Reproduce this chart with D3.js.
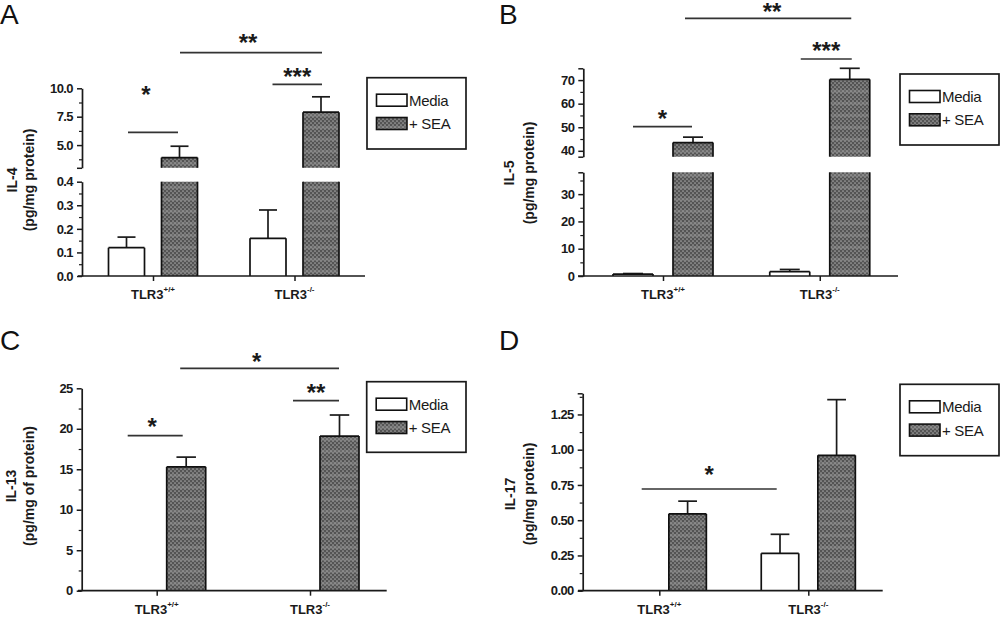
<!DOCTYPE html>
<html><head><meta charset="utf-8">
<script src="https://cdn.jsdelivr.net/npm/d3@7"></script>
<style>body{margin:0;background:#fff}svg{display:block}</style>
</head><body>
<svg id="c" width="1000" height="617"></svg>
<script>
// ---------- DATA ----------
const groups = ["TLR3+/+", "TLR3-/-"];
const groupBase = ["TLR3", "TLR3"];
const groupSup = ["+/+", "-/-"];
const series = ["Media", "+ SEA"];

const il4Media = [0.12, 0.16];
const il4MediaErr = [0.045, 0.12];
const il4Sea = [3.9, 7.9];
const il4SeaErr = [1.0, 1.35];

const il5Media = [0.7, 1.6];
const il5MediaErr = [0.2, 0.8];
const il5Sea = [43.5, 70.3];
const il5SeaErr = [2.3, 4.7];

const il13Media = [0, 0];
const il13MediaErr = [0, 0];
const il13Sea = [15.3, 19.1];
const il13SeaErr = [1.2, 2.6];

const il17Media = [0, 0.265];
const il17MediaErr = [0, 0.135];
const il17Sea = [0.545, 0.96];
const il17SeaErr = [0.09, 0.395];

const ticksIL4Low = [0.0, 0.1, 0.2, 0.3, 0.4];
const ticksIL4High = [5.0, 7.5, 10.0];
const ticksIL5Low = [0, 10, 20, 30];
const ticksIL5High = [40, 50, 60, 70];
const ticksIL13 = [0, 5, 10, 15, 20, 25];
const ticksIL17 = [0, 0.25, 0.5, 0.75, 1.0, 1.25];

const sigIL4 = ["*", "**", "***"];
const sigIL5 = ["*", "**", "***"];
const sigIL13 = ["*", "*", "**"];
const sigIL17 = ["*"];

// ---------- LAYOUT ----------
const panels = [
  {letter: "A", lx: 0, ly: 24, axisX: 82, xStart: 78, xEnd: 365, centers: [153, 294.5], barW: 36, off: 26.5,
   media: il4Media, mediaErr: il4MediaErr, sea: il4Sea, seaErr: il4SeaErr,
   segs: [
     {domain: [0, 0.4], range: [276, 181.7], ticks: ticksIL4Low, minor: [0.05, 0.15, 0.25, 0.35], fmt: ".1f"},
     {domain: [3, 10], range: [167.8, 88.3], ticks: ticksIL4High, minor: [3.75, 6.25, 8.75], ends: [3], fmt: ".1f"}
   ],
   ylab: ["IL-4", "(pg/mg protein)"], ylabX: [17, 34], ylabY: 180,
   legend: {x: 367, y: 77.7, w: 99, h: 71.3},
   sig: [
     {from: [0, 0, 1.5], to: [0, 1, -1.5], y: 132.3, sy: 89, label: sigIL4[0], sx: -7},
     {from: [0, 1, 0.5], to: [1, 1, 1], y: 52.7, sy: 37.7, label: sigIL4[1], sx: -3},
     {from: [1, 0, 4.5], to: [1, 1, 1], y: 84.3, sy: 71.7, label: sigIL4[2], sx: 0}
   ]},
  {letter: "B", lx: 499, ly: 24, axisX: 583.3, xStart: 578, xEnd: 898, centers: [663, 819.75], barW: 40, off: 30,
   media: il5Media, mediaErr: il5MediaErr, sea: il5Sea, seaErr: il5SeaErr,
   segs: [
     {domain: [0, 38], range: [276, 172.3], ticks: ticksIL5Low, minor: [5, 15, 25, 35], ends: [38], fmt: "d"},
     {domain: [37.5, 75], range: [156.7, 68.3], ticks: ticksIL5High, minor: [45, 55, 65], ends: [37.5, 75], fmt: "d"}
   ],
   ylab: ["IL-5", "(pg/mg protein)"], ylabX: [514, 534], ylabY: 173,
   legend: {x: 900, y: 74, w: 99, h: 71},
   sig: [
     {from: [0, 0, 0], to: [0, 1, -1], y: 126.7, sy: 113, label: sigIL5[0], sx: 0},
     {from: [0, 1, -8], to: [1, 1, 1.5], y: 18.3, sy: 6, label: sigIL5[1], sx: 4},
     {from: [1, 0, 11], to: [1, 1, 2], y: 59, sy: 45, label: sigIL5[2], sx: 0}
   ]},
  {letter: "C", lx: 0, ly: 350, axisX: 81.7, xStart: 78, xEnd: 386.7, centers: [156.7, 310], barW: 39, off: 29.5,
   media: il13Media, mediaErr: il13MediaErr, sea: il13Sea, seaErr: il13SeaErr,
   segs: [
     {domain: [0, 25], range: [590.7, 388.3], ticks: ticksIL13, minor: [2.5, 7.5, 12.5, 17.5, 22.5], fmt: "d"}
   ],
   ylab: ["IL-13", "(pg/mg of protein)"], ylabX: [16, 34], ylabY: 486,
   legend: {x: 366.7, y: 381.7, w: 99.3, h: 70.6},
   sig: [
     {from: [0, 0, 0.5], to: [0, 1, -3.5], y: 435.7, sy: 421.7, label: sigIL13[0], sx: -3},
     {from: [0, 1, -6], to: [1, 1, -0.5], y: 368.3, sy: 356.7, label: sigIL13[1], sx: -3},
     {from: [1, 0, 12.5], to: [1, 1, -0.5], y: 400.7, sy: 387.7, label: sigIL13[2], sx: 0}
   ]},
  {letter: "D", lx: 499, ly: 350, axisX: 582.7, xStart: 578, xEnd: 882.7, centers: [659.3, 808.3], barW: 37.5, off: 28.3,
   media: il17Media, mediaErr: il17MediaErr, sea: il17Sea, seaErr: il17SeaErr,
   segs: [
     {domain: [0, 1.4], range: [590.7, 393.3], ticks: ticksIL17, minor: [0.125, 0.375, 0.625, 0.875, 1.125, 1.375], ends: [1.4], fmt: ".2f"}
   ],
   ylab: ["IL-17", "(pg/mg protein)"], ylabX: [515, 534], ylabY: 494,
   legend: {x: 900, y: 384.3, w: 99, h: 71.4},
   sig: [
     {from: [0, 0, 10.7], to: [1, 0, -3.3], y: 489, sy: 469, label: sigIL17[0], sx: 0}
   ]}
];

const svg = d3.select("#c");
const FONT = "'Liberation Sans', Arial, sans-serif";
const INK = "#1a1a1a";

// pattern for SEA bars
const defs = svg.append("defs");
const pat = defs.append("pattern").attr("id", "sea").attr("patternUnits", "userSpaceOnUse")
  .attr("width", 4).attr("height", 12);
pat.append("rect").attr("width", 4).attr("height", 12).attr("fill", "#545454");
pat.append("rect").attr("y", 6).attr("width", 4).attr("height", 3).attr("fill", "#6c6c6c");
[[1,1],[3,3],[1,5],[3,7],[1,9],[3,11]].forEach(p => {
  pat.append("circle").attr("cx", p[0]).attr("cy", p[1]).attr("r", 0.85).attr("fill", "#a4a4a4");
});

panels.forEach(P => {
  const g = svg.append("g");
  // panel letter
  g.append("text").attr("x", P.lx).attr("y", P.ly).attr("font-family", FONT)
    .attr("font-size", 28).attr("fill", "#111").text(P.letter);

  const xg = d3.scalePoint().domain(groups).range(P.centers);
  const xs = d3.scaleBand().domain(series)
    .range([-(P.off + P.barW / 2), P.off + P.barW / 2])
    .paddingInner((2 * P.off - P.barW) / (2 * P.off));
  const barX = (gi, si) => xg(groups[gi]) + xs(series[si]);
  const barC = (gi, si) => barX(gi, si) + xs.bandwidth() / 2;

  const segs = P.segs.map(s => Object.assign({}, s, {scale: d3.scaleLinear().domain(s.domain).range(s.range)}));
  const segFor = v => segs.find(s => v >= s.domain[0] && v <= s.domain[1]) || segs[segs.length - 1];
  const yOf = v => segFor(v).scale(v);

  // y axes
  segs.forEach(s => {
    const ax = g.append("g").attr("transform", `translate(${P.axisX},0)`)
      .call(d3.axisLeft(s.scale).tickValues(s.ticks).tickFormat(d3.format(s.fmt)).tickSize(5).tickSizeOuter(0).tickPadding(4));
    ax.select(".domain").attr("stroke", INK).attr("stroke-width", 1.7);
    ax.selectAll(".tick line").attr("stroke", INK).attr("stroke-width", 1.5);
    ax.selectAll(".tick text").attr("font-family", FONT).attr("font-weight", "bold")
      .attr("font-size", 13).attr("fill", INK).attr("letter-spacing", "-0.6");
    const mn = g.append("g").attr("transform", `translate(${P.axisX},0)`)
      .call(d3.axisLeft(s.scale).tickValues(s.minor).tickFormat("").tickSize(3).tickSizeOuter(0));
    mn.select(".domain").remove();
    mn.selectAll(".tick line").attr("stroke", INK).attr("stroke-width", 1.2);
    if (s.ends) {
      const en = g.append("g").attr("transform", `translate(${P.axisX},0)`)
        .call(d3.axisLeft(s.scale).tickValues(s.ends).tickFormat("").tickSize(5).tickSizeOuter(0));
      en.select(".domain").remove();
      en.selectAll(".tick line").attr("stroke", INK).attr("stroke-width", 1.5);
    }
  });

  // bars
  const seriesVals = [[P.media, P.mediaErr], [P.sea, P.seaErr]];
  seriesVals.forEach(([vals, errs], si) => {
    vals.forEach((v, gi) => {
      if (v <= 0) return;
      const x0 = barX(gi, si), w = xs.bandwidth();
      const top = v + errs[gi];
      if (errs[gi] > 0) {
        const yv = yOf(v), ye = yOf(top);
        g.append("line").attr("x1", x0 + w / 2).attr("x2", x0 + w / 2).attr("y1", yv).attr("y2", ye)
          .attr("stroke", INK).attr("stroke-width", 1.7);
        g.append("line").attr("x1", x0 + w / 4).attr("x2", x0 + 3 * w / 4).attr("y1", ye).attr("y2", ye)
          .attr("stroke", INK).attr("stroke-width", 1.7);
      }
      segs.forEach((s, k) => {
        if (v <= s.domain[0] && k > 0) return;
        const lo = k === 0 ? 0 : s.domain[0];
        const hi = Math.min(v, s.domain[1]);
        if (hi <= lo) return;
        const yb = s.scale(lo), yt = s.scale(hi);
        g.append("rect").attr("x", x0).attr("y", yt).attr("width", w).attr("height", yb - yt)
          .attr("fill", si === 0 ? "#fff" : "url(#sea)");
        const ln = (x1, y1, x2, y2) => g.append("line").attr("x1", x1).attr("y1", y1)
          .attr("x2", x2).attr("y2", y2).attr("stroke", "#111").attr("stroke-width", 1.7);
        ln(x0, yb, x0, yt);
        ln(x0 + w, yb, x0 + w, yt);
        if (v <= s.domain[1]) ln(x0, yt, x0 + w, yt);
      });
    });
  });

  // x axis
  const baseY = segs[0].range[0];
  g.append("line").attr("x1", P.xStart).attr("x2", P.xEnd).attr("y1", baseY).attr("y2", baseY)
    .attr("stroke", INK).attr("stroke-width", 1.7);
  const xa = g.append("g").attr("transform", `translate(0,${baseY})`)
    .call(d3.axisBottom(xg).tickSize(5).tickFormat(""));
  xa.select(".domain").remove();
  xa.selectAll(".tick line").attr("stroke", INK).attr("stroke-width", 1.5);

  groups.forEach((gname, gi) => {
    const t = g.append("text").attr("x", xg(gname)).attr("y", baseY + 23)
      .attr("text-anchor", "middle").attr("font-family", FONT).attr("font-weight", "bold")
      .attr("font-size", 13).attr("fill", INK);
    t.append("tspan").text(groupBase[gi]);
    t.append("tspan").attr("dy", -7).attr("font-size", 8).text(groupSup[gi]);
  });

  // y label
  P.ylab.forEach((lab, i) => {
    g.append("text").attr("transform", `translate(${P.ylabX[i]},${P.ylabY}) rotate(-90)`)
      .attr("text-anchor", "middle").attr("font-family", FONT).attr("font-weight", "bold")
      .attr("font-size", 14).attr("fill", INK).text(lab);
  });

  // significance
  P.sig.forEach(s => {
    const x1 = barC(s.from[0], s.from[1]) + s.from[2];
    const x2 = barC(s.to[0], s.to[1]) + s.to[2];
    g.append("line").attr("x1", x1).attr("x2", x2).attr("y1", s.y).attr("y2", s.y)
      .attr("stroke", "#333").attr("stroke-width", 1.7);
    g.append("text").attr("x", (x1 + x2) / 2 + s.sx).attr("y", s.sy + 13.5)
      .attr("text-anchor", "middle").attr("font-family", FONT).attr("font-weight", "bold")
      .attr("font-size", 24).attr("fill", INK).text(s.label);
  });

  // legend
  const L = P.legend;
  g.append("rect").attr("x", L.x).attr("y", L.y).attr("width", L.w).attr("height", L.h)
    .attr("fill", "#fff").attr("stroke", INK).attr("stroke-width", 1.7);
  series.forEach((sn, i) => {
    const sy = L.y + 16.5 + i * 23.3;
    g.append("rect").attr("x", L.x + 9.5).attr("y", sy).attr("width", 30.5).attr("height", 12)
      .attr("fill", i === 0 ? "#fff" : "url(#sea)").attr("stroke", "#111").attr("stroke-width", 1.6);
    g.append("text").attr("x", L.x + 42).attr("y", sy + 11.5).attr("font-family", FONT)
      .attr("font-size", 15).attr("fill", INK).attr("letter-spacing", "-0.3").text(sn);
  });
});
</script>
</body></html>
